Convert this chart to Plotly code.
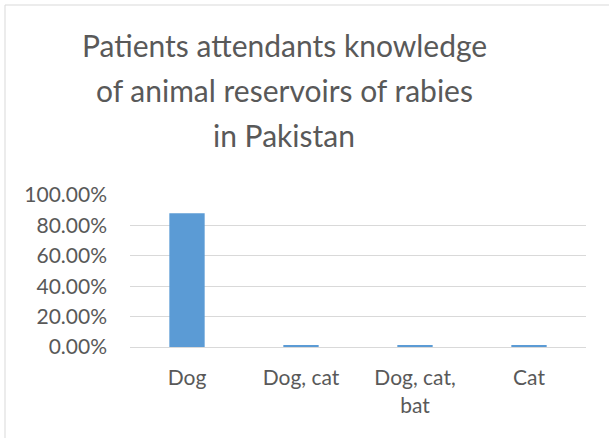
import plotly.graph_objects as go

categories = ["Dog", "Dog, cat", "Dog, cat,<br>bat", "Cat"]
values = [0.88, 0.01, 0.01, 0.01]
y_ticks = [0, 0.2, 0.4, 0.6, 0.8, 1.0]
title_lines = ["Patients attendants knowledge", "of animal reservoirs of rabies", "in Pakistan"]

W, H = 609, 438
L, T = 130, 195
pw, ph = 456, 152
R, B = W - L - pw, H - T - ph
font_family = "Lato"
grey = "#595959"

fig = go.Figure()
fig.add_trace(go.Bar(x=categories, y=values, marker=dict(color="#5B9BD5", line=dict(width=0)), width=0.31))

fig.update_xaxes(showgrid=False, showline=True, linecolor="#D9D9D9", linewidth=1, ticks="", ticklabelstandoff=12,
                 tickfont=dict(size=21, color=grey, family=font_family))
fig.update_yaxes(range=[0, 1.0], tickvals=y_ticks, tickformat=".2%", gridcolor="#D9D9D9", gridwidth=1,
                 zeroline=False, showline=False, ticklabelstandoff=22,
                 tickfont=dict(size=21, color=grey, family=font_family))

# chart frame: only top and left edges are visible in the crop
top = (T + ph - 5) / ph
left = (5 - L) / pw
fig.add_shape(type="line", xref="paper", yref="paper", x0=left, x1=(W + 20 - L) / pw, y0=top, y1=top,
              line=dict(color="#D9D9D9", width=1))
fig.add_shape(type="line", xref="paper", yref="paper", x0=left, x1=left, y0=top, y1=(T + ph - (H + 20)) / ph,
              line=dict(color="#D9D9D9", width=1))

for i, line in enumerate(title_lines):
    fig.add_annotation(text=line, xref="paper", yref="paper", showarrow=False,
                       x=(284 - L) / pw, y=(T + ph - (45 + 45 * i)) / ph,
                       xanchor="center", yanchor="middle",
                       font=dict(size=30, color=grey, family=font_family))

fig.update_layout(width=W, height=H, margin=dict(l=L, r=R, t=T, b=B),
                  plot_bgcolor="white", paper_bgcolor="white", showlegend=False)

fig.write_html("out.html", config=dict(displayModeBar=False),
               post_script="document.body.style.margin='0';document.body.style.overflow='hidden';")
